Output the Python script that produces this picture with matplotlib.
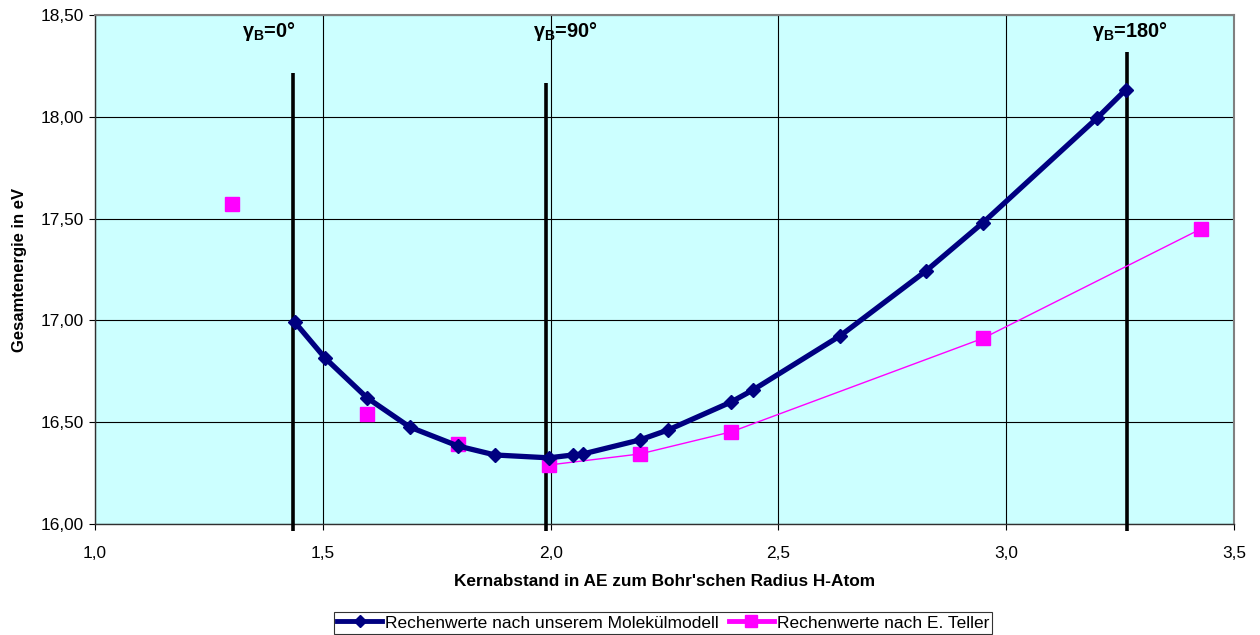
import matplotlib
matplotlib.use("Agg")
import matplotlib.pyplot as plt
from matplotlib.ticker import FuncFormatter, MultipleLocator
from matplotlib.lines import Line2D

plt.rcParams['font.family'] = ['Liberation Sans', 'DejaVu Sans']
plt.rcParams['mathtext.fontset'] = 'custom'
plt.rcParams['mathtext.rm'] = 'Liberation Sans'
plt.rcParams['mathtext.bf'] = 'Liberation Sans:bold'
plt.rcParams['mathtext.it'] = 'Liberation Sans:italic'

# Data
model_x = [1.439, 1.505, 1.597, 1.691, 1.797, 1.878, 1.996, 2.049, 2.071,
           2.196, 2.258, 2.396, 2.444, 2.636, 2.824, 2.949, 3.200, 3.262]
model_y = [16.99, 16.815, 16.62, 16.476, 16.383, 16.339, 16.325, 16.339, 16.344,
           16.413, 16.462, 16.599, 16.658, 16.925, 17.243, 17.48, 17.995, 18.132]

teller_x = [1.30, 1.598, 1.797, 1.997, 2.196, 2.397, 2.949, 3.427]
teller_y = [17.572, 16.54, 16.393, 16.29, 16.344, 16.453, 16.912, 17.449]
teller_line_start = 3  # line drawn from this point on

angle_x = [1.435, 1.99, 3.265]
angle_top = [18.215, 18.166, 18.32]
angle_labels = ['0°', '90°', '180°']
angle_label_x = [1.382, 2.032, 3.272]

fig = plt.figure(figsize=(12.6, 6.35), dpi=100)
ax = fig.add_axes([95/1260, 111/635, 1139/1260, 509/635])
ax.set_facecolor('#CCFFFF')

ax.set_xlim(1.0, 3.5)
ax.set_ylim(16.0, 18.5)
ax.xaxis.set_major_locator(MultipleLocator(0.5))
ax.yaxis.set_major_locator(MultipleLocator(0.5))
ax.xaxis.set_major_formatter(FuncFormatter(lambda v, p: f"{v:.1f}".replace('.', ',')))
ax.yaxis.set_major_formatter(FuncFormatter(lambda v, p: f"{v:.2f}".replace('.', ',')))
ax.grid(True, color='black', linewidth=0.8, zorder=0)
ax.set_axisbelow(True)

for s in ['top', 'right']:
    ax.spines[s].set_color('#808080')
    ax.spines[s].set_linewidth(1.5)
for s in ['left', 'bottom']:
    ax.spines[s].set_color('#303030')
    ax.spines[s].set_linewidth(1.0)

ax.tick_params(axis='both', direction='out', length=4, width=0.8, labelsize=12.4)
ax.tick_params(axis='x', pad=12)
ax.tick_params(axis='y', pad=4)

# vertical angle lines
for xv, top, lab, lx in zip(angle_x, angle_top, angle_labels, angle_label_x):
    ax.plot([xv, xv], [15.966, top], color='black', linewidth=2.6, zorder=3,
            clip_on=False, solid_capstyle='butt')
    ax.text(lx, 18.42, r'$\mathbf{\gamma_B}$=' + lab, fontsize=14.3, fontweight='bold',
            ha='center', va='center', zorder=5)

# Teller series
ax.plot(teller_x[teller_line_start:], teller_y[teller_line_start:], color='#FF00FF',
        linewidth=1.0, zorder=4)
ax.plot(teller_x, teller_y, linestyle='none', marker='s', markersize=9.5,
        color='#FF00FF', markeredgecolor='#FF00FF', zorder=4)

# Model series
ax.plot(model_x, model_y, color='#000080', linewidth=3.8, marker='D', markersize=7.5,
        markeredgecolor='#000080', zorder=6)

ax.set_xlabel("Kernabstand in AE zum Bohr'schen Radius H-Atom", fontsize=12.4,
              fontweight='bold', labelpad=9)
ax.set_ylabel("Gesamtenergie in eV", fontsize=12, fontweight='bold', labelpad=10)

# Legend
h1 = Line2D([], [], color='#000080', linewidth=3.5, marker='D', markersize=6)
h2 = Line2D([], [], color='#FF00FF', linewidth=3.5, marker='s', markersize=8)
leg = fig.legend([h1, h2], ['Rechenwerte nach unserem Molekülmodell', 'Rechenwerte nach E. Teller'],
                 loc='center', bbox_to_anchor=(663/1260, 1 - 623/635), ncol=2, fontsize=12.5,
                 frameon=True, fancybox=False, edgecolor='black', handlelength=2.6,
                 handletextpad=0.15, columnspacing=0.6, borderpad=0.2, borderaxespad=0)
leg.get_frame().set_linewidth(0.8)

fig.savefig('out.png', dpi=100)
